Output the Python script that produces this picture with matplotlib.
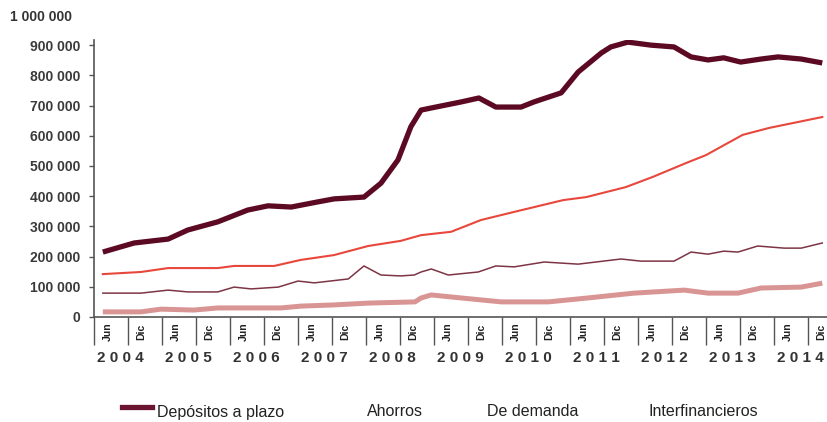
import numpy as np
import matplotlib.pyplot as plt
from matplotlib.lines import Line2D

plt.rcParams['font.family'] = ['Liberation Sans', 'DejaVu Sans']

# depositos (miles), x en anios decimales
x_plazo = [2004.13, 2004.59, 2005.09, 2005.38, 2005.82, 2006.26, 2006.56, 2006.90,
           2007.29, 2007.53, 2007.97, 2008.22, 2008.47, 2008.66, 2008.81, 2008.96,
           2009.40, 2009.66, 2009.91, 2010.28, 2010.47, 2010.87, 2011.12, 2011.46,
           2011.60, 2011.85, 2012.19, 2012.53, 2012.78, 2013.03, 2013.26, 2013.51,
           2013.81, 2014.06, 2014.40, 2014.71]
plazo = [215, 245, 258, 288, 315, 354, 368, 364, 381, 391, 397, 443, 520, 630, 685, 692,
         712, 725, 695, 695, 712, 742, 811, 874, 894, 910, 900, 894, 861, 851, 858, 844,
         854, 861, 854, 841]

x_ahorros = [2004.13, 2004.69, 2005.09, 2005.82, 2006.06, 2006.65, 2007.04, 2007.53,
             2008.03, 2008.51, 2008.81, 2009.25, 2009.69, 2010.18, 2010.90, 2011.24,
             2011.82, 2012.22, 2012.71, 2013.00, 2013.54, 2013.93, 2014.71]
ahorros = [142, 149, 162, 162, 169, 169, 189, 205, 235, 252, 271, 282, 321, 348, 387,
           397, 430, 464, 510, 536, 603, 626, 662]

x_demanda = [2004.13, 2004.69, 2005.09, 2005.38, 2005.82, 2006.06, 2006.31, 2006.71,
             2007.00, 2007.24, 2007.74, 2007.97, 2008.22, 2008.51, 2008.71, 2008.81,
             2008.96, 2009.21, 2009.65, 2009.91, 2010.18, 2010.62, 2011.12, 2011.75,
             2012.04, 2012.53, 2012.78, 2013.03, 2013.26, 2013.47, 2013.76, 2014.15,
             2014.40, 2014.71]
demanda = [79, 79, 89, 83, 83, 99, 93, 99, 119, 113, 126, 169, 139, 136, 139, 149,
           159, 139, 149, 169, 166, 182, 175, 192, 185, 185, 215, 208, 218, 215, 235,
           228, 228, 245]

x_interf = [2004.13, 2004.69, 2004.985, 2005.47, 2005.82, 2006.75, 2007.04, 2007.53,
            2008.03, 2008.72, 2008.81, 2008.96, 2009.40, 2009.99, 2010.68, 2011.26,
            2011.94, 2012.68, 2013.03, 2013.47, 2013.81, 2014.40, 2014.71]
interf = [17, 17, 26, 23, 30, 30, 36, 40, 46, 50, 63, 73, 63, 50, 50, 63, 79, 89, 79,
          79, 96, 99, 112]

years = list(range(2004, 2015))
month_labels = ['Jun', 'Dic']
legend_items = ['Depósitos a plazo', 'Ahorros', 'De demanda', 'Interfinancieros']

fig = plt.figure(figsize=(8.27, 4.22), dpi=100)
ax = fig.add_axes([94 / 827, 1 - 317 / 422, 1 - 94 / 827, (317 - 40) / 422])

ax.plot(x_interf, np.array(interf) * 1000, color='#d99594', lw=3.6, solid_capstyle='butt')
ax.plot(x_demanda, np.array(demanda) * 1000, color='#7d3545', lw=1.1)
ax.plot(x_ahorros, np.array(ahorros) * 1000, color='#e8473c', lw=1.5)
ax.plot(x_plazo, np.array(plazo) * 1000, color='#5c0a24', lw=3.8, solid_capstyle='butt')

ax.set_xlim(2004.0, 2004.0 + (827 - 94) / 68)
ax.set_ylim(0, 917000)

yt = np.arange(0, 900001, 100000)
ax.set_yticks(yt)
ax.set_yticklabels(['0' if v == 0 else f'{v // 1000} 000' for v in yt],
                   fontsize=10, fontweight='bold', color='#3a3a3a')
ax.tick_params(axis='y', direction='out', length=3.6, width=1, color='#555555', pad=6)

ax.set_xticks(np.arange(2004.0, 2015.0, 0.5))
ax.set_xticklabels([])
ax.tick_params(axis='x', direction='out', length=20, width=1, color='#555555')

for s in ['top', 'right']:
    ax.spines[s].set_visible(False)
for s in ['left', 'bottom']:
    ax.spines[s].set_color('#555555')
    ax.spines[s].set_linewidth(1.2)

trans = ax.get_xaxis_transform()
for y in years:
    for k, lab in enumerate(month_labels):
        ax.text(y + 0.5 * k + 0.2, -0.052, lab, transform=trans, rotation=90,
                ha='center', va='center', fontsize=7.5, fontweight='bold',
                color='#222222', clip_on=False)
    ax.text(y + 0.39, -0.147, ' '.join(str(y)), transform=trans, ha='center',
            va='center', fontsize=11, fontweight='bold', color='#333333', clip_on=False)

fig.text(10 / 827, 1 - 17 / 422, '1 000 000', fontsize=10, fontweight='bold',
         color='#333333', va='center', ha='left')

# leyenda
fig.add_artist(Line2D([122 / 827, 152 / 827], [1 - 407 / 422] * 2, color='#6b1530',
                      lw=3.8, transform=fig.transFigure))
legend_x = [157, 367, 487, 648]
for lab, lx in zip(legend_items, legend_x):
    fig.text(lx / 827, 1 - 412 / 422, lab, fontsize=11.5, color='#222222',
             va='center', ha='left')

fig.savefig('out.png', dpi=100)
